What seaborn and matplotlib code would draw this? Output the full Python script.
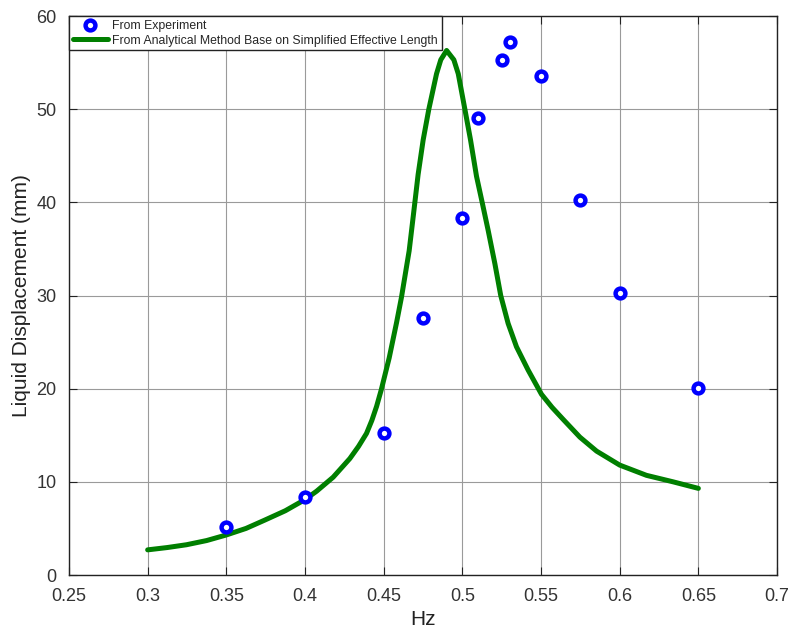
import matplotlib
matplotlib.use("Agg")
import matplotlib.pyplot as plt
import seaborn as sns
import pandas as pd

exp_hz = [0.35, 0.40, 0.45, 0.475, 0.50, 0.51, 0.525, 0.53, 0.55, 0.575, 0.60, 0.65]
exp_disp = [5.2, 8.4, 15.2, 27.6, 38.3, 49.1, 55.3, 57.2, 53.6, 40.2, 30.3, 20.1]

ana_hz = [0.300, 0.3125, 0.3247, 0.3375, 0.350, 0.3625, 0.3745, 0.3875, 0.400, 0.4074,
          0.4179, 0.4285, 0.4340, 0.4391, 0.4425, 0.4455, 0.4485, 0.4535, 0.4582, 0.4613,
          0.4662, 0.4690, 0.4719, 0.4751, 0.4787, 0.4836, 0.4863, 0.4900, 0.4946, 0.4974,
          0.5016, 0.5052, 0.5090, 0.5126, 0.5164, 0.5207, 0.5244, 0.5291, 0.5344, 0.5418,
          0.5503, 0.5570, 0.5641, 0.5747, 0.5853, 0.6000, 0.6170, 0.6340, 0.6500]
ana_disp = [2.7, 2.95, 3.25, 3.7, 4.3, 5.0, 5.9, 6.9, 8.1, 9.0,
            10.5, 12.5, 13.8, 15.2, 16.6, 18.1, 19.9, 23.3, 27.1, 29.8,
            34.8, 38.8, 43.0, 46.7, 50.0, 53.8, 55.3, 56.3, 55.3, 53.8,
            50.0, 46.7, 42.8, 40.0, 37.0, 33.4, 30.0, 27.0, 24.5, 22.0,
            19.4, 18.0, 16.7, 14.8, 13.3, 11.8, 10.7, 10.0, 9.3]

x_ticks = [0.25, 0.3, 0.35, 0.4, 0.45, 0.5, 0.55, 0.6, 0.65, 0.7]
x_tick_labels = ["0.25", "0.3", "0.35", "0.4", "0.45", "0.5", "0.55", "0.6", "0.65", "0.7"]
y_ticks = [0, 10, 20, 30, 40, 50, 60]

sns.set_style("ticks")
plt.rcParams["font.family"] = ["Liberation Sans", "DejaVu Sans"]

fig = plt.figure(figsize=(7.92, 6.33), dpi=100)
ax = fig.add_axes([0.0871, 0.0916, 0.894, 0.8831])

df_exp = pd.DataFrame({"Hz": exp_hz, "Disp": exp_disp})
df_ana = pd.DataFrame({"Hz": ana_hz, "Disp": ana_disp})

ax.grid(True, color="#9a9a9a", linewidth=0.8, zorder=0)
ax.set_axisbelow(True)

sns.lineplot(data=df_ana, x="Hz", y="Disp", ax=ax, color="#007f00", linewidth=3.6,
             label="From Analytical Method Base on Simplified Effective Length", zorder=3)
sns.scatterplot(data=df_exp, x="Hz", y="Disp", ax=ax, marker="o", s=50,
                facecolor="white", edgecolor="#0000ff", linewidth=3.2,
                label="From Experiment", zorder=4)

ax.set_xlim(0.25, 0.7)
ax.set_ylim(0, 60)
ax.set_xticks(x_ticks)
ax.set_xticklabels(x_tick_labels)
ax.set_yticks(y_ticks)
ax.tick_params(direction="in", length=6, width=0.8, labelsize=13, pad=9,
               top=True, right=True, colors="#222222")
ax.tick_params(axis="x", labelcolor="#333333")
ax.tick_params(axis="y", labelcolor="#333333")
for s in ax.spines.values():
    s.set_color("#222222")
    s.set_linewidth(1.0)

ax.set_xlabel("Hz", fontsize=15, color="#222222", labelpad=4)
ax.set_ylabel("Liquid Displacement (mm)", fontsize=15, color="#222222", labelpad=4)

handles, labels = ax.get_legend_handles_labels()
order = [labels.index("From Experiment"),
         labels.index("From Analytical Method Base on Simplified Effective Length")]
leg = ax.legend([handles[i] for i in order], [labels[i] for i in order],
                loc="upper left", borderaxespad=0, fontsize=8.8, frameon=True,
                fancybox=False, edgecolor="#222222", framealpha=1,
                handlelength=2.9, borderpad=0.3, labelspacing=0.25, handletextpad=0.35)
leg.get_frame().set_linewidth(1.0)
leg.set_zorder(5)

fig.savefig("out.png", dpi=100)
